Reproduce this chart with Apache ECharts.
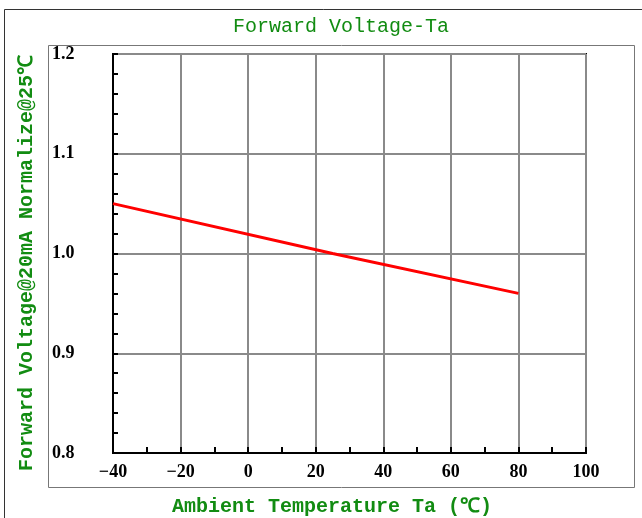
<!DOCTYPE html>
<html>
<head>
<meta charset="utf-8">
<script src="https://cdn.jsdelivr.net/npm/echarts@6/dist/echarts.min.js"></script>
<style>
  html, body { margin: 0; padding: 0; background: #fff; }
  #chart { width: 642px; height: 518px; }
</style>
</head>
<body>
<div id="chart"></div>
<script>
// Data
const chartTitle = 'Forward Voltage-Ta';
const xAxisTitle = 'Ambient Temperature Ta (℃)';
const yAxisTitle = 'Forward Voltage@20mA Normalize@25℃';
const temperatures = [-40, 25, 80];          // °C
const normalizedVf = [1.05, 1.0, 0.96];      // relative forward voltage
const xTicks = [-40, -20, 0, 20, 40, 60, 80, 100];
const yTicks = [0.8, 0.9, 1.0, 1.1, 1.2];

const green = '#128c12';
const labelFont = 'Liberation Serif';
const monoFont = '"Liberation Mono", "DejaVu Sans Mono", monospace';

const chart = echarts.init(document.getElementById('chart'), null, { renderer: 'canvas' });

const option = {
  backgroundColor: '#fff',
  animation: false,
  grid: {
    left: 113, top: 54, right: 56, bottom: 65,
    show: true, borderColor: '#000', borderWidth: 2, backgroundColor: 'transparent'
  },
  xAxis: {
    type: 'value',
    min: xTicks[0],
    max: xTicks[xTicks.length - 1],
    interval: 20,
    axisLine: { show: true, onZero: false, lineStyle: { color: '#000', width: 2 } },
    axisTick: { show: true, inside: true, length: 6, lineStyle: { color: '#000', width: 2 } },
    minorTick: { show: true, splitNumber: 2, length: 6, lineStyle: { color: '#000', width: 2 } },
    splitLine: { show: true, lineStyle: { color: '#8a8a8a', width: 2 } },
    axisLabel: {
      margin: 10, color: '#000', fontFamily: labelFont, fontWeight: 'bold', fontSize: 18,
      formatter: v => (v < 0 ? '\u2212' + Math.abs(v) : String(v))
    }
  },
  yAxis: {
    type: 'value',
    min: yTicks[0],
    max: yTicks[yTicks.length - 1],
    interval: 0.1,
    axisLine: { show: true, onZero: false, lineStyle: { color: '#000', width: 2 } },
    axisTick: { show: true, inside: true, length: 5, lineStyle: { color: '#000', width: 2 } },
    minorTick: { show: true, splitNumber: 5, length: 5, lineStyle: { color: '#000', width: 2 } },
    splitLine: { show: true, lineStyle: { color: '#8a8a8a', width: 2 } },
    axisLabel: {
      align: 'left', margin: 61, color: '#000', fontFamily: labelFont, fontWeight: 'bold', fontSize: 18,
      formatter: v => v.toFixed(1)
    }
  },
  series: [{
    type: 'line',
    data: temperatures.map((t, i) => [t, normalizedVf[i]]),
    showSymbol: false,
    symbol: 'none',
    lineStyle: { color: '#ff0000', width: 3 },
    z: 5
  }],
  graphic: [
    // outer frame (top and left visible, continuing off canvas)
    { type: 'rect', shape: { x: 4.5, y: 9.5, width: 700, height: 600 }, style: { fill: 'none', stroke: '#333', lineWidth: 1 }, silent: true, z: -10 },
    // inner frame around the plot area and its labels
    { type: 'rect', shape: { x: 48.5, y: 45.5, width: 586, height: 442 }, style: { fill: 'none', stroke: '#777', lineWidth: 1 }, silent: true, z: -10 },
    { type: 'text', x: 341, y: 27, style: { text: chartTitle, textAlign: 'center', textVerticalAlign: 'middle', fill: green, font: '20px ' + monoFont } },
    { type: 'text', x: 332, y: 507, style: { text: xAxisTitle, textAlign: 'center', textVerticalAlign: 'middle', fill: green, font: 'bold 20px ' + monoFont } },
    { type: 'text', x: 27, y: 263, rotation: Math.PI / 2, style: { text: yAxisTitle, textAlign: 'center', textVerticalAlign: 'middle', fill: green, font: 'bold 20px ' + monoFont } }
  ]
};

chart.setOption(option);
</script>
</body>
</html>
